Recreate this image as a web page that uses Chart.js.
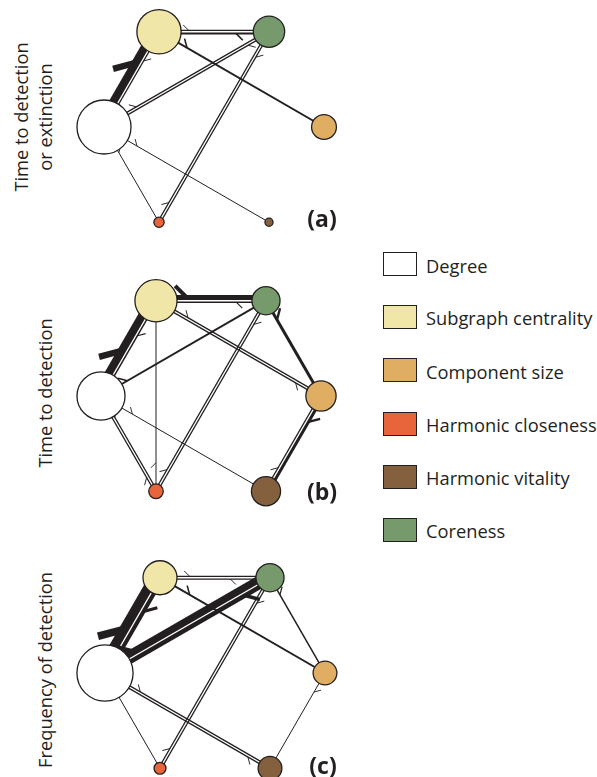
<!DOCTYPE html>
<html><head><meta charset="utf-8">
<script src="https://cdn.jsdelivr.net/npm/chart.js@4.4.1/dist/chart.umd.min.js"></script>
<style>
html,body{margin:0;padding:0;background:#fff;}
body{width:597px;height:777px;overflow:hidden;position:relative;font-family:"Open Sans",sans-serif;color:#231f20;}
canvas.panel{position:absolute;}
.ylab{position:absolute;white-space:nowrap;text-align:center;font-size:18.3px;line-height:24px;transform:translate(-50%,-50%) rotate(-90deg);}
.tag{position:absolute;font-weight:bold;font-size:23px;white-space:nowrap;transform:translate(-50%,-50%);}
.leg{position:absolute;left:383px;height:25px;width:214px;}
.leg .sw{position:absolute;left:0;top:0;width:32px;height:22px;border:1.5px solid #231f20;}
.leg .tx{position:absolute;left:43px;top:50%;transform:translateY(-50%);font-size:18.3px;white-space:nowrap;}
</style></head>
<body>
<canvas id="pa" class="panel"></canvas>
<canvas id="pb" class="panel"></canvas>
<canvas id="pc" class="panel"></canvas>
<div class="ylab" style="left:33px;top:117px;">Time to detection<br>or extinction</div>
<div class="ylab" style="left:45px;top:393px;">Time to detection</div>
<div class="ylab" style="left:45px;top:670px;">Frequency of detection</div>
<div class="tag" style="left:322px;top:218px;">(a)</div>
<div class="tag" style="left:322px;top:491px;">(b)</div>
<div class="tag" style="left:323px;top:765px;">(c)</div>
<div id="legend"></div>
<script>
// ---------------- DATA ----------------
const nodeNames = ["Degree", "Subgraph centrality", "Component size", "Harmonic closeness", "Harmonic vitality", "Coreness"];
// node importance (relative) per panel
const nodeSizeA = [100, 82, 46, 19, 15, 58];
const nodeSizeB = [89, 78, 56, 27, 54, 52];
const nodeSizeC = [104, 63, 44, 22, 44, 52];
// directed edges: [from, to, strength]  (0 Degree,1 Subgraph,2 Component,3 H.closeness,4 H.vitality,5 Coreness)
const edgesA = [[0,1,0.8],[1,0,0.12],[1,5,0.12],[5,1,0.2],[1,2,0.2],[5,0,0.12],[0,5,0.12],[5,3,0.12],[3,5,0.12],[0,3,0.1],[0,4,0.1]];
const edgesB = [[0,1,0.8],[1,0,0.15],[1,5,0.5],[5,1,0.15],[1,2,0.12],[2,1,0.12],[3,1,0.1],[0,5,0.2],[5,3,0.12],[3,5,0.12],[5,2,0.3],[0,3,0.12],[3,0,0.12],[0,4,0.1],[2,4,0.3],[4,2,0.12]];
const edgesC = [[0,1,0.95],[1,0,0.4],[0,5,0.72],[5,0,0.45],[1,5,0.12],[5,1,0.12],[1,2,0.2],[5,2,0.15],[5,3,0.12],[3,5,0.12],[0,3,0.1],[0,4,0.12],[4,0,0.12],[2,4,0.1]];

// ---------------- STYLE / LAYOUT ----------------
const nodeColors = ["#ffffff", "#efe6a7", "#dfae63", "#e8643b", "#84603f", "#769a6b"];
const INK = "#231f20";
const hexAngle = [180, 120, 0, 240, 300, 60];
const PX = 110;            // pixels per layout unit
const W = 300, H = 260;
const SIZE_K = 0.27, EDGE_K = 10, GAP = 1.4;
const barbA = [0.65,0.3,0.27,0.3,0.17,0.13,0.2,0.13,0.1,0.27,0.2];
const barbB = [0.45,0.36,0.28,0.27,0.19,0.15,0.15,0.16,0.12,0.11,0.2,0.23,0.15,0.19,0.26,0.24];
const barbC = [0.43,0.34,0.18,0.16,0.27,0.36,0.18,0.18,0.13,0.1,0.26,0.21,0.13,0.2];

function makePanel(id, cx, cy, sizes, edges, barbs) {
  const cv = document.getElementById(id);
  cv.width = W; cv.height = H;
  cv.style.width = W + "px"; cv.style.height = H + "px";
  cv.style.left = (cx - W / 2) + "px"; cv.style.top = (cy - H / 2) + "px";
  const pos = hexAngle.map(a => ({x: Math.cos(a * Math.PI / 180), y: Math.sin(a * Math.PI / 180)}));
  const datasets = [];
  datasets.push({
    type: "bubble",
    data: pos.map((p, i) => ({x: p.x, y: p.y, r: sizes[i] * SIZE_K})),
    backgroundColor: nodeColors, borderColor: INK, borderWidth: 1.3,
    hoverBorderWidth: 1.3, hoverRadius: 0, order: 0
  });
  edges.forEach((e, k) => {
    const [f, t, s] = e;
    const w = s * EDGE_K;
    const rev = edges.some(o => o[0] === t && o[1] === f);
    const dx = pos[t].x - pos[f].x, dy = pos[t].y - pos[f].y;
    const len = Math.hypot(dx, dy);
    const ux = dx / len, uy = dy / len;
    const nx = -uy, ny = ux;
    const d = rev ? (GAP / 2 + w / 2) / PX : 0;
    const a = {x: pos[f].x + nx * d, y: pos[f].y + ny * d};
    const b = {x: pos[t].x + nx * d, y: pos[t].y + ny * d};
    datasets.push({
      type: "line", data: [a, b], borderColor: INK, borderWidth: w,
      pointRadius: 0, pointHoverRadius: 0, fill: false, tension: 0,
      borderCapStyle: "butt", order: 1
    });
    const tt = barbs[k];
    const P = {x: a.x + (b.x - a.x) * tt, y: a.y + (b.y - a.y) * tt};
    const L = (5 + 2.3 * w) / PX;
    const c = Math.cos(Math.PI / 4), sn = Math.sin(Math.PI / 4);
    const Q = {x: P.x + (-ux * c + nx * sn) * L, y: P.y + (-uy * c + ny * sn) * L};
    datasets.push({
      type: "line", data: [P, Q], borderColor: INK, borderWidth: Math.max(0.9, w * 0.8),
      pointRadius: 0, pointHoverRadius: 0, fill: false, tension: 0,
      borderCapStyle: "butt", order: 2
    });
  });
  new Chart(cv, {
    type: "bubble",
    data: {datasets},
    options: {
      responsive: false, animation: false, events: [],
      layout: {autoPadding: false, padding: 0},
      plugins: {legend: {display: false}, tooltip: {enabled: false}},
      scales: {
        x: {type: "linear", display: false, min: -W / 2 / PX, max: W / 2 / PX},
        y: {type: "linear", display: false, min: -H / 2 / PX, max: H / 2 / PX}
      }
    }
  });
}

makePanel("pa", 213.5, 127, nodeSizeA, edgesA, barbA);
makePanel("pb", 211, 396, nodeSizeB, edgesB, barbB);
makePanel("pc", 214.5, 673, nodeSizeC, edgesC, barbC);

// legend
const legRows = [264.5, 317, 370.5, 424, 477, 530];
const legOrder = [0, 1, 2, 3, 4, 5];
const lg = document.getElementById("legend");
legOrder.forEach((i, k) => {
  const d = document.createElement("div");
  d.className = "leg"; d.style.top = (legRows[k] - 12.5) + "px";
  d.innerHTML = '<div class="sw" style="background:' + nodeColors[i] + '"></div><div class="tx">' + nodeNames[i] + '</div>';
  lg.appendChild(d);
});
</script>
</body></html>
